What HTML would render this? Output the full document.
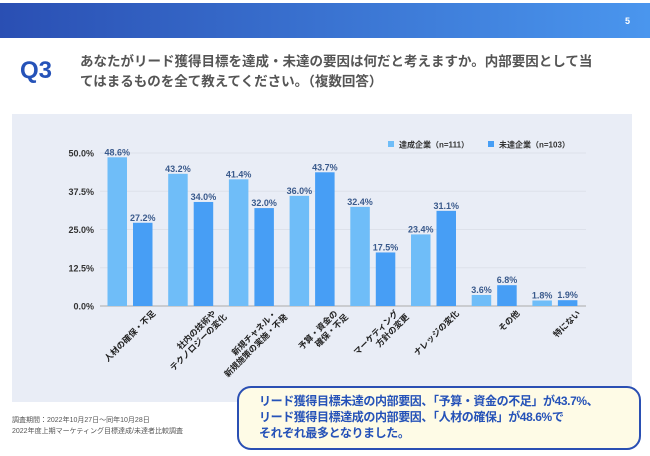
<!DOCTYPE html>
<html><head><meta charset="utf-8"><style>
body{margin:0;width:650px;height:456px;overflow:hidden;background:#fff;font-family:"Liberation Sans","Noto Sans CJK JP",sans-serif;position:relative}
.hdr{position:absolute;left:0;top:3px;width:650px;height:35px;background:linear-gradient(90deg,#2a4fb3,#4a96ee)}
.pg{position:absolute;right:20px;top:13px;color:#fff;font-size:9px;font-weight:bold}
.q{position:absolute;left:20px;top:57px;color:#2552b8;font-size:24px;font-weight:bold}
.t{position:absolute;left:80px;top:52px;color:#555;font-size:13.5px;font-weight:bold;line-height:20px;font-family:"Liberation Sans","Noto Sans CJK JP",sans-serif}
.panel{position:absolute;left:12px;top:114px;width:620px;height:288px;background:#e9edf6}
.note{position:absolute;left:12px;top:415px;font-size:7px;color:#555;line-height:11px}
.call{position:absolute;left:237px;top:386px;width:404px;height:64px;box-sizing:border-box;border:2.5px solid #2a4fb3;border-radius:14px;background:#fefbe6;color:#2552b8;font-size:12px;font-weight:bold;line-height:16px;padding:5px 12px 5px 20px;white-space:nowrap;letter-spacing:-0.4px;overflow:hidden}
</style></head><body>
<div class="hdr"><span class="pg">5</span></div>
<div class="q">Q3</div>
<div class="t">あなたがリード獲得目標を達成・未達の要因は何だと考えますか。内部要因として当<br>てはまるものを全て教えてください。（複数回答）</div>
<div class="panel"></div>
<svg id="chart" width="650" height="456" style="position:absolute;left:0;top:0"></svg>
<div class="note">調査期間：2022年10月27日〜同年10月28日<br>2022年度上期マーケティング目標達成/未達者比較調査</div>
<div class="call">リード獲得目標未達の内部要因、「予算・資金の不足」が43.7%、<br>リード獲得目標達成の内部要因、「人材の確保」が48.6%で<br>それぞれ最多となりました。</div>
<script>
const categories=[["人材の確保・不足"],["社内の技術や","テクノロジーの変化"],["新規チャネル・","新規施策の実施・不発"],["予算・資金の","確保・不足"],["マーケティング","方針の変更"],["ナレッジの変化"],["その他"],["特にない"]];
const achieved=[48.6,43.2,41.4,36.0,32.4,23.4,3.6,1.8];
const notAchieved=[27.2,34.0,32.0,43.7,17.5,31.1,6.8,1.9];
const ticks=[0,12.5,25,37.5,50];
const seriesNames=["達成企業（n=111）","未達企業（n=103）"];
const svg=document.getElementById('chart');const NS='http://www.w3.org/2000/svg';
function y(v){return 306-v*3.06}
function x0(i){return 107.5+i*60.7}
function mk(t,a,p){const e=document.createElementNS(NS,t);for(const k in a)e.setAttribute(k,a[k]);(p||svg).appendChild(e);return e}
ticks.forEach(t=>{
 const l=mk('line',{x1:100,x2:586,y1:y(t),y2:y(t),stroke:t===0?'#aaa':'#dde1ea','stroke-width':1});
 
 
 const tx=mk('text',{x:94,y:y(t)+3.5,'text-anchor':'end','font-size':9,'font-weight':'bold',fill:'#333'});tx.textContent=t.toFixed(1)+'%';
 
 
});
const cols=['#6fbdf8','#479ef5'];
[achieved,notAchieved].forEach((s,si)=>s.forEach((v,i)=>{
 const bx=x0(i)+si*25.5;
 const r=mk('rect',{x:bx,y:y(v),width:19.5,height:306-y(v),fill:cols[si]});
 
 
 const t=mk('text',{x:bx+9.75,y:y(v)-2,'text-anchor':'middle','font-size':9,'font-weight':'bold',fill:'#3a5a8c'});t.textContent=v.toFixed(1)+'%';
 
 
}));
categories.forEach((c,i)=>{
 const cx=x0(i)+22.5+26,cy=314;
 const t=mk('text',{transform:`translate(${cx},${cy}) rotate(-45)`,'text-anchor':'end','font-size':8.5,'font-weight':'bold',fill:'#222'});
 
 
 c.forEach((ln,k)=>{const ts=mk('tspan',{x:k?5:0,y:k*10},t);ts.textContent=ln;});
});
seriesNames.forEach((n,i)=>{
 const lx=388+i*100;
 const r=mk('rect',{x:lx,y:141,width:6,height:6,fill:cols[i]});
 
 
 const t=mk('text',{x:lx+11,y:147.5,'font-size':8,'font-weight':'bold',fill:'#333'});t.textContent=n;
 
 
});
</script>
</body></html>
